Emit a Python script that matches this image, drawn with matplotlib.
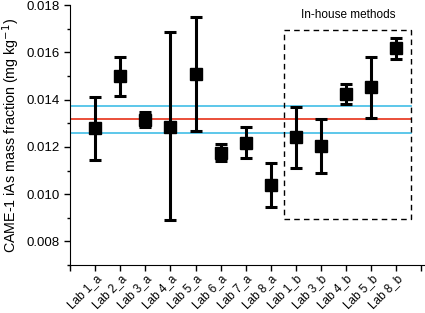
import matplotlib
matplotlib.use('Agg')
from matplotlib import pyplot as plt
from matplotlib.patches import Rectangle
import numpy as np

plt.rcParams['font.family'] = ['Liberation Sans', 'DejaVu Sans']

# -- data --
labs = ['Lab 1_a', 'Lab 2_a', 'Lab 3_a', 'Lab 4_a', 'Lab 5_a', 'Lab 6_a', 'Lab 7_a',
        'Lab 8_a', 'Lab 1_b', 'Lab 3_b', 'Lab 4_b', 'Lab 5_b', 'Lab 8_b']
mean = [0.01281, 0.01500, 0.01315, 0.01285, 0.01509, 0.01176, 0.01218,
        0.01038, 0.01240, 0.01202, 0.01423, 0.01453, 0.01617]
upper = [0.01412, 0.01581, 0.01349, 0.01686, 0.01749, 0.01214, 0.01285,
         0.01133, 0.01367, 0.01319, 0.01467, 0.01579, 0.01659]
lower = [0.01146, 0.01416, 0.01285, 0.00889, 0.01268, 0.01142, 0.01154,
         0.00945, 0.01111, 0.01090, 0.01382, 0.01324, 0.01571]
ref_value = 0.01318
ref_upper = 0.01371
ref_lower = 0.01260

x = np.arange(1, len(labs) + 1)
mean = np.array(mean)
yerr = [mean - np.array(lower), np.array(upper) - mean]

fig = plt.figure(figsize=(4.25, 3.13), dpi=100)
ax = fig.add_axes([0.165, 0.153, 0.832, 0.831])

# reference value and its uncertainty
ax.plot([0, 13.58], [ref_upper, ref_upper], color='#4fc3e8', lw=1.3, zorder=1)
ax.plot([0, 13.58], [ref_value, ref_value], color='#e8402a', lw=1.3, zorder=1)
ax.plot([0, 13.58], [ref_lower, ref_lower], color='#4fc3e8', lw=1.3, zorder=1)

ax.errorbar(x, mean, yerr=yerr, fmt='s', color='black', ms=8.5, elinewidth=2.2,
            capsize=4, capthick=2.2, zorder=3)

# in-house methods box
ax.add_patch(Rectangle((8.54, 0.00897), 5.04, 0.00798, fill=False, ls=(0, (4, 3)),
                       lw=1, edgecolor='black', zorder=2))
ax.text(11.08, 0.01758, 'In-house methods', ha='center', va='center', fontsize=8.5)

ax.set_xlim(0, 14.1)
ax.set_ylim(0.007, 0.018)
ax.set_xticks(x)
ax.set_xticklabels(labs, rotation=45, ha='right', rotation_mode='anchor', fontsize=8.5)
ax.set_xticks([0, 14], minor=True)
ax.set_yticks(np.arange(0.008, 0.0181, 0.002))
ax.set_yticklabels(['%.3f' % v for v in np.arange(0.008, 0.0181, 0.002)], fontsize=9.5)
ax.set_yticks(np.arange(0.007, 0.0181, 0.001), minor=True)
ax.tick_params(axis='both', which='both', direction='out', length=4, width=1)
ax.tick_params(axis='y', which='minor', length=2.5)
ax.tick_params(axis='x', which='minor', length=4)
ax.tick_params(axis='x', which='major', pad=1.5)
ax.spines['top'].set_visible(False)
ax.spines['right'].set_visible(False)
ax.set_ylabel('CAME-1 iAs mass fraction (mg kg$^{-1}$)', fontsize=10.3, labelpad=3)

plt.savefig('out.png', dpi=100)
